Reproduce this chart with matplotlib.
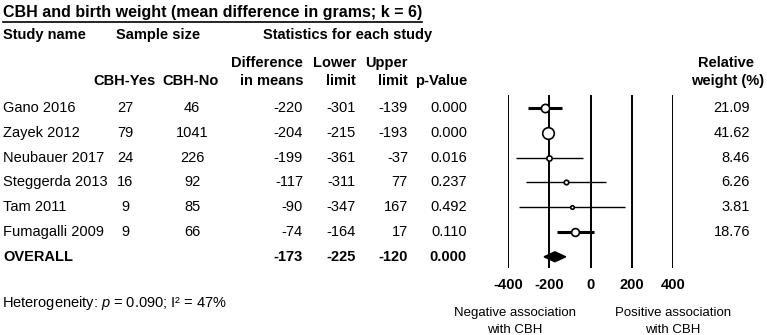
import numpy as np
import matplotlib
matplotlib.use("Agg")
import matplotlib.pyplot as plt
from matplotlib.patches import Polygon
from matplotlib.lines import Line2D

plt.rcParams['font.family'] = ['Liberation Sans', 'DejaVu Sans']
plt.rcParams['mathtext.fontset'] = 'custom'
plt.rcParams['mathtext.it'] = 'Liberation Sans:italic'
plt.rcParams['mathtext.rm'] = 'Liberation Sans'

# data ----------------
studies = ['Gano 2016', 'Zayek 2012', 'Neubauer 2017', 'Steggerda 2013',
           'Tam 2011', 'Fumagalli 2009']
n_yes = [27, 79, 24, 16, 9, 9]
n_no = [46, 1041, 226, 92, 85, 66]
diff = [-220, -204, -199, -117, -90, -74]
lower = [-301, -215, -361, -311, -347, -164]
upper = [-139, -193, -37, 77, 167, 17]
pvals = ['0.000', '0.000', '0.016', '0.237', '0.492', '0.110']
weights = [21.09, 41.62, 8.46, 6.26, 3.81, 18.76]
overall = (-173, -225, -120, '0.000')
ticks = [-400, -200, 0, 200, 400]

W, H = 767, 335
fig = plt.figure(figsize=(W / 100, H / 100), dpi=100)


def px(x, y):
    return x / W, 1 - y / H


def put(x, y, s, ha='left', bold=False, size=10.5, **kw):
    fx, fy = px(x, y)
    return fig.text(fx, fy, s, ha=ha, va='center', fontsize=size,
                    fontweight='bold' if bold else 'normal', **kw)


# header text
title = put(3, 13, 'CBH and birth weight (mean difference in grams; k = 6)',
            bold=True, size=11.5)
put(3, 35, 'Study name', bold=True)
put(158, 35, 'Sample size', ha='center', bold=True)
put(348, 35, 'Statistics for each study', ha='center', bold=True)
put(124, 81, 'CBH-Yes', ha='center', bold=True)
put(191, 81, 'CBH-No', ha='center', bold=True)
put(303, 63, 'Difference', ha='right', bold=True)
put(303, 81, 'in means', ha='right', bold=True)
put(356, 63, 'Lower', ha='right', bold=True)
put(356, 81, 'limit', ha='right', bold=True)
put(408, 63, 'Upper', ha='right', bold=True)
put(408, 81, 'limit', ha='right', bold=True)
put(467, 81, 'p-Value', ha='right', bold=True)
put(726, 63, 'Relative', ha='center', bold=True)
put(728, 81, 'weight (%)', ha='center', bold=True)

# rows
row0, dy = 108, 24.8
for i, name in enumerate(studies):
    y = row0 + i * dy
    put(3, y, name)
    put(125, y, str(n_yes[i]), ha='center')
    put(192, y, str(n_no[i]), ha='center')
    put(303, y, str(diff[i]), ha='right')
    put(356, y, str(lower[i]), ha='right')
    put(408, y, str(upper[i]), ha='right')
    put(467, y, pvals[i], ha='right')
    put(750, y, f'{weights[i]:.2f}', ha='right')

y = row0 + len(studies) * dy
put(3, y, 'OVERALL', bold=True)
put(303, y, str(overall[0]), ha='right', bold=True)
put(356, y, str(overall[1]), ha='right', bold=True)
put(408, y, str(overall[2]), ha='right', bold=True)
put(467, y, overall[3], ha='right', bold=True)

put(2, 303, 'Heterogeneity: $p$ = 0.090; I² = 47%')
put(515, 313, 'Negative association', ha='center', size=9.5)
put(515, 330, 'with CBH', ha='center', size=9.5)
put(673, 313, 'Positive association', ha='center', size=9.5)
put(673, 330, 'with CBH', ha='center', size=9.5)

# forest plot ---------
x0, x1, ytop, ybot = 508, 673, 95, 268
ax = fig.add_axes([x0 / W, 1 - ybot / H, (x1 - x0) / W, (ybot - ytop) / H])
ax.set_xlim(-400, 400)
ax.set_ylim((ybot - row0) / dy, (ytop - row0) / dy)
for t in ticks:
    ax.axvline(t, color='black', lw=1.4, zorder=1)

for i in range(len(studies)):
    lw = 2.2 if weights[i] > 15 else 1.0
    ax.plot([lower[i], upper[i]], [i, i], color='black', lw=lw, zorder=2,
            solid_capstyle='butt')
    ms = 1.8 * np.sqrt(weights[i]) * 0.72
    ax.plot(diff[i], i, 'o', ms=ms, mfc='white', mec='black', mew=1.2,
            zorder=3, clip_on=False)

k = len(studies)
h = 0.2
ax.add_patch(Polygon([(overall[1], k), (overall[0], k - h), (overall[2], k),
                      (overall[0], k + h)], closed=True, color='black', zorder=3))

ax.set_xticks(ticks)
ax.set_xticklabels([str(t) for t in ticks], fontweight='bold', fontsize=10.5)
ax.tick_params(axis='x', length=0, pad=7)
ax.set_yticks([])
for s in ax.spines.values():
    s.set_visible(False)
ax.patch.set_alpha(0)

# underline title
fig.canvas.draw()
bb = title.get_window_extent().transformed(fig.transFigure.inverted())
fig.add_artist(Line2D([bb.x0, bb.x1], [bb.y0 - 1.0 / H, bb.y0 - 1.0 / H],
                      transform=fig.transFigure, color='black', lw=1.2))

fig.savefig('out.png', dpi=100)
